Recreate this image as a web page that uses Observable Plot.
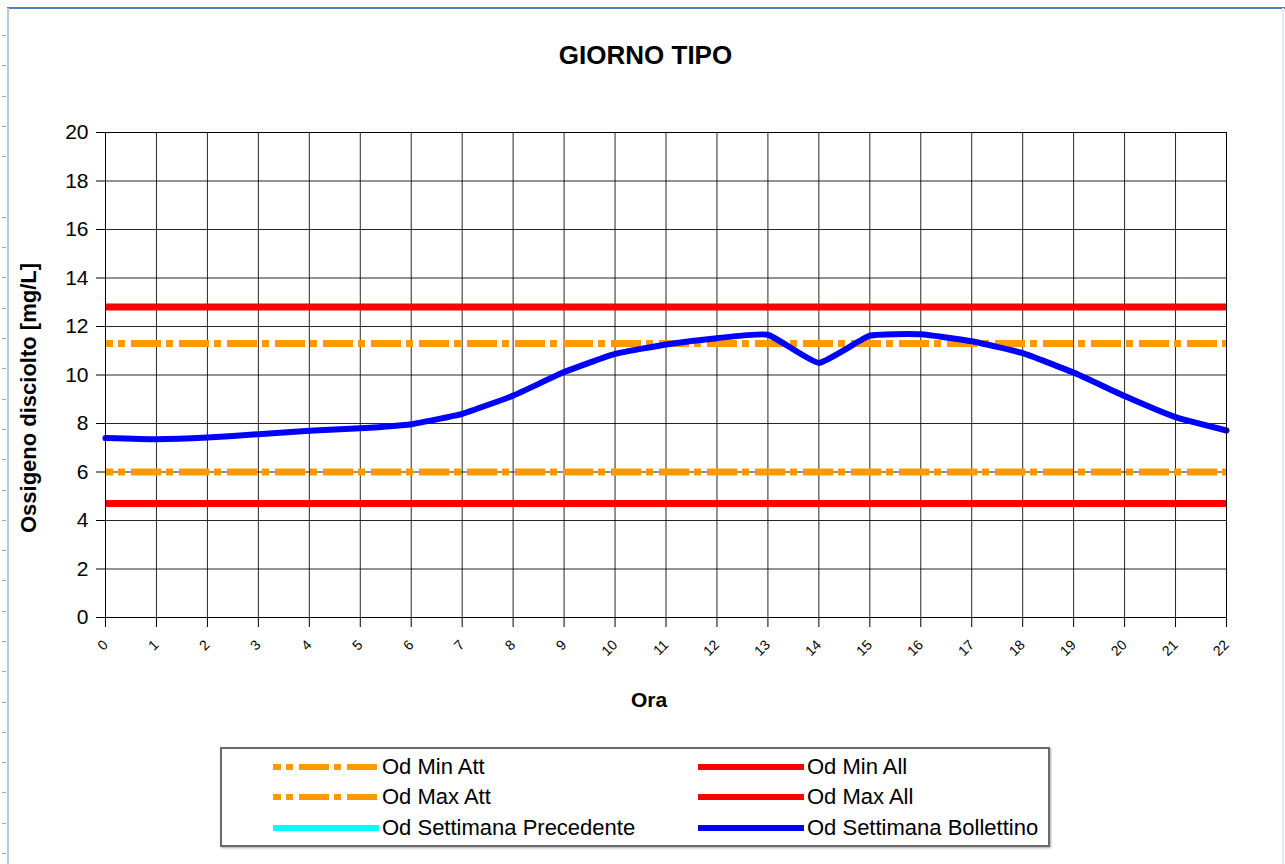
<!DOCTYPE html>
<html>
<head>
<meta charset="utf-8">
<script src="https://cdn.jsdelivr.net/npm/d3@7"></script>
<script src="https://cdn.jsdelivr.net/npm/@observablehq/plot@0.6"></script>
<style>
  html, body { margin: 0; padding: 0; background: #fff; }
  body { width: 1285px; height: 864px; position: relative; overflow: hidden; font-family: 'Liberation Sans', Arial, sans-serif; }
  #frameTop { position: absolute; left: 7px; top: 7px; width: 1278px; height: 2px; background: #5580bd; }
  #frameLeft { position: absolute; left: 7px; top: 8px; width: 2px; height: 856px; background: #b4c8e6; }
  #frameRight { position: absolute; left: 1282px; top: 8px; width: 2px; height: 856px; background: #e3ebf5; }
  #ruler { position: absolute; left: 2px; top: 20px; width: 4px; height: 844px;
    background: repeating-linear-gradient(to bottom, transparent 0px, transparent 15px, #a0a0a0 15px, #a0a0a0 16px, transparent 16px, transparent 30.3px); }
  #title { height: 100px; box-sizing: border-box; padding-top: 42px; text-align: center; font-weight: bold; font-size: 26px; line-height: 26px; padding-left: 6px; }
  #chart { height: 620px; }
  #legend { position: absolute; left: 220px; top: 747px; width: 826px; height: 96px; border: 2px solid #6a6a6a; box-shadow: 1px 1px 2px #aaa; background: #fff; }
  .item { position: absolute; height: 30px; display: flex; align-items: center; font-size: 22px; }
  .item svg { margin-right: 3px; }
</style>
</head>
<body>
<div id="frameTop"></div>
<div id="frameLeft"></div>
<div id="frameRight"></div>
<div id="ruler"></div>
<div id="title">GIORNO TIPO</div>
<div id="chart"></div>
<div id="legend"></div>
<script>
// ---- data ----
const hours = [0,1,2,3,4,5,6,7,8,9,10,11,12,13,14,15,16,17,18,19,20,21,22];
const odSettimanaBollettino = [7.4, 7.35, 7.42, 7.56, 7.7, 7.8, 7.97, 8.4, 9.15, 10.12, 10.87, 11.26, 11.52, 11.66, 10.5, 11.62, 11.68, 11.39, 10.9, 10.1, 9.13, 8.26, 7.71];
const odSettimanaPrecedente = [];
const odMinAtt = [6];
const odMaxAtt = [11.3];
const odMinAll = [4.7];
const odMaxAll = [12.8];
const yTicks = [0,2,4,6,8,10,12,14,16,18,20];
const legendLabels = ["Od Min Att", "Od Min All", "Od Max Att", "Od Max All", "Od Settimana Precedente", "Od Settimana Bollettino"];
const legendColors = ["#ff9900", "#ff0000", "#ff9900", "#ff0000", "#00ffff", "#0000ff"];
const legendDashed = [true, false, true, false, false, false];

const dashDot = "30,5,7,6";
const blueData = hours.map((h, i) => ({h, v: odSettimanaBollettino[i]}));

const chart = Plot.plot({
  width: 1285,
  height: 620,
  marginLeft: 105,
  marginRight: 59,
  marginTop: 32,
  marginBottom: 103,
  style: { fontFamily: "'Liberation Sans', Arial, sans-serif", color: "#000", background: "#fff", overflow: "visible" },
  x: { domain: [0, 22] },
  y: { domain: [0, 20] },
  marks: [
    Plot.gridX(hours, { stroke: "#000", strokeOpacity: 0.85 }),
    Plot.gridY(yTicks, { stroke: "#000", strokeOpacity: 0.85 }),
    Plot.ruleY(odMaxAll, { stroke: "#ff0000", strokeWidth: 7 }),
    Plot.ruleY(odMinAll, { stroke: "#ff0000", strokeWidth: 7 }),
    Plot.ruleY(odMaxAtt, { stroke: "#ff9900", strokeWidth: 7, strokeDasharray: dashDot, strokeDashoffset: 22 }),
    Plot.ruleY(odMinAtt, { stroke: "#ff9900", strokeWidth: 7, strokeDasharray: dashDot, strokeDashoffset: 22 }),
    Plot.line(odSettimanaPrecedente, { x: "h", y: "v", stroke: "#00ffff", strokeWidth: 6 }),
    Plot.line(blueData, { x: "h", y: "v", stroke: "#0000ff", strokeWidth: 6, curve: "cardinal", tension: 0.6, strokeLinejoin: "round" }),
    Plot.frame({ stroke: "#000" }),
    Plot.axisY(yTicks, { tickSize: 9, tickPadding: 8, fontSize: 21, label: null }),
    Plot.axisX(hours, { tickSize: 10, tickPadding: 15, tickRotate: -45, fontSize: 14, label: null }),
    Plot.text(["Ossigeno disciolto [mg/L]"], { frameAnchor: "left", text: d => d, rotate: -90, dx: -77, dy: 23, fontSize: 22, fontWeight: "bold", textAnchor: "middle", lineAnchor: "middle" }),
    Plot.text(["Ora"], { frameAnchor: "bottom", text: d => d, dx: -17, dy: 83, fontSize: 21, fontWeight: "bold", textAnchor: "middle", lineAnchor: "middle" })
  ]
});
document.getElementById("chart").appendChild(chart);

// ---- legend ----
const legend = document.getElementById("legend");
const colX = [51, 476];
const rowY = [3, 33, 64];
legendLabels.forEach((lab, i) => {
  const col = i % 2, row = Math.floor(i / 2);
  const div = document.createElement("div");
  div.className = "item";
  div.style.left = colX[col] + "px";
  div.style.top = rowY[row] + "px";
  const dash = legendDashed[i] ? `stroke-dasharray="${dashDot}" stroke-dashoffset="22"` : "";
  div.innerHTML = `<svg width="106" height="10"><line x1="0" x2="106" y1="5" y2="5" stroke="${legendColors[i]}" stroke-width="6" ${dash}/></svg><span>${lab}</span>`;
  legend.appendChild(div);
});
</script>
</body>
</html>
